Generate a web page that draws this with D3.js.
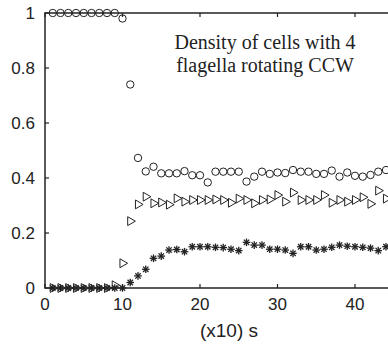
<!DOCTYPE html>
<html><head><meta charset="utf-8">
<script src="https://cdn.jsdelivr.net/npm/d3@7"></script>
<style>body{margin:0;background:#fff;overflow:hidden}svg{display:block}</style>
</head><body>
<script>
const times = d3.range(1, 45);
const circleVals = [1,1,1,1,1,1,1,1,1,0.98,0.74,0.473,0.424,0.441,0.417,0.417,0.417,0.425,0.41,0.41,
  0.384,0.423,0.423,0.423,0.423,0.387,0.405,0.423,0.415,0.42,0.418,0.429,0.423,0.423,0.415,0.415,0.427,0.405,0.42,0.408,0.405,0.411,0.423,0.429];
const triangleVals = [0,0,0,0,0,0,0,0,0.01,0.09,0.243,0.304,0.332,0.308,0.311,0.303,0.326,0.314,0.32,0.32,
  0.32,0.322,0.32,0.31,0.325,0.32,0.308,0.32,0.322,0.338,0.314,0.347,0.32,0.32,0.32,0.338,0.31,0.32,0.314,0.32,0.33,0.306,0.354,0.325];
const starVals = [0,0,0,0,0,0,0,0,0,0,0.02,0.044,0.068,0.108,0.116,0.138,0.14,0.132,0.15,0.15,
  0.15,0.148,0.147,0.141,0.136,0.166,0.156,0.156,0.141,0.141,0.138,0.126,0.15,0.15,0.138,0.141,0.148,0.156,0.152,0.15,0.148,0.145,0.136,0.15];
const xTicks = [0,10,20,30,40];
const yTicks = [0,0.2,0.4,0.6,0.8,1];
const yTickLabels = ["0","0.2","0.4","0.6","0.8","1"];
const annotation = ["Density of cells with 4","flagella rotating CCW"];
const xLabel = "(x10) s";

const W = 388, H = 344;
const svg = d3.select("body").append("svg").attr("width", W).attr("height", H);
const x = d3.scaleLinear().domain([0, 47]).range([45, 45 + 47*7.75]);
const y = d3.scaleLinear().domain([0, 1]).range([288, 13]);
const ink = "#222";
const sans = "Liberation Sans, Arial, sans-serif";

const g = svg.append("g");
g.append("line").attr("x1", x(0)).attr("x2", x(47)).attr("y1", y(0)).attr("y2", y(0)).attr("stroke", ink).attr("stroke-width", 1.5);
g.append("line").attr("x1", x(0)).attr("x2", x(47)).attr("y1", y(1)).attr("y2", y(1)).attr("stroke", ink).attr("stroke-width", 1.5);
g.append("line").attr("x1", x(0)).attr("x2", x(0)).attr("y1", y(0)+0.75).attr("y2", y(1)-0.75).attr("stroke", ink).attr("stroke-width", 1.5);

xTicks.forEach(t => {
  g.append("line").attr("x1", x(t)).attr("x2", x(t)).attr("y1", y(0)).attr("y2", y(0)-4).attr("stroke", ink).attr("stroke-width", 1.2);
  g.append("line").attr("x1", x(t)).attr("x2", x(t)).attr("y1", y(1)).attr("y2", y(1)+4).attr("stroke", ink).attr("stroke-width", 1.2);
  g.append("text").attr("x", x(t)).attr("y", 310).attr("text-anchor", "middle")
    .attr("font-family", sans).attr("font-size", 17).attr("fill", ink).text(t);
});
yTicks.forEach((t, i) => {
  g.append("line").attr("x1", x(0)).attr("x2", x(0)+4).attr("y1", y(t)).attr("y2", y(t)).attr("stroke", ink).attr("stroke-width", 1.2);
  g.append("text").attr("x", 35).attr("y", y(t)).attr("dy", "0.36em").attr("text-anchor", "end")
    .attr("font-family", sans).attr("font-size", 17).attr("fill", ink).text(yTickLabels[i]);
});

g.append("text").attr("x", 229).attr("y", 337).attr("text-anchor", "middle")
  .attr("font-family", sans).attr("font-size", 19).attr("fill", ink).text(xLabel);

annotation.forEach((s, i) => {
  g.append("text").attr("x", 265).attr("y", 49 + i*23).attr("text-anchor", "middle")
    .attr("font-family", "Liberation Serif, Times New Roman, serif").attr("font-size", 20).attr("fill", ink).text(s);
});

// stars
const starG = svg.append("g").attr("stroke", ink).attr("stroke-width", 1.3);
times.forEach((t, i) => {
  const cx = x(t), cy = y(starVals[i]), r = 3.8;
  [0, 45, 90, 135].forEach(a => {
    const rad = a * Math.PI / 180;
    starG.append("line").attr("x1", cx - r*Math.cos(rad)).attr("y1", cy - r*Math.sin(rad))
      .attr("x2", cx + r*Math.cos(rad)).attr("y2", cy + r*Math.sin(rad));
  });
});

// triangles
const tri = d3.symbol().type(d3.symbolTriangle).size(34);
svg.append("g").selectAll("path").data(times).join("path")
  .attr("d", tri)
  .attr("transform", (t, i) => `translate(${x(t)},${y(triangleVals[i])}) rotate(90)`)
  .attr("fill", "none").attr("stroke", ink).attr("stroke-width", 1);

// circles
svg.append("g").selectAll("circle").data(times).join("circle")
  .attr("cx", t => x(t)).attr("cy", (t, i) => y(circleVals[i])).attr("r", 3.7)
  .attr("fill", "none").attr("stroke", ink).attr("stroke-width", 1);
</script>
</body></html>
